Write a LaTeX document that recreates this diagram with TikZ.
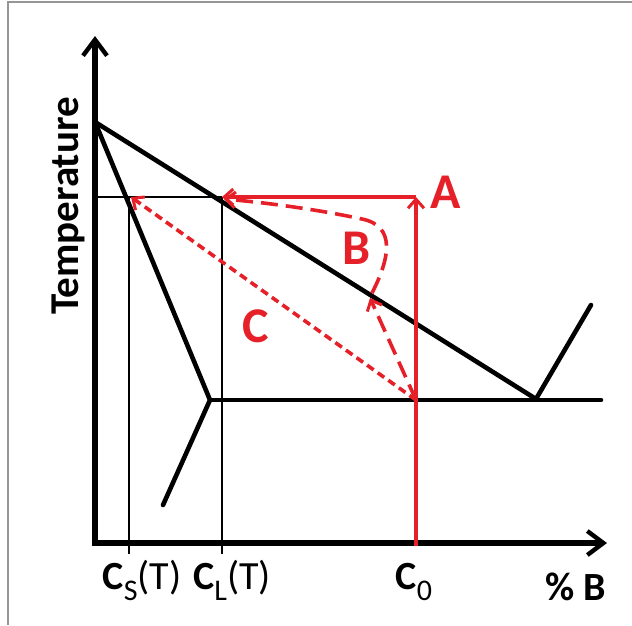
\documentclass[tikz,border=0pt]{standalone}
\usepackage{fontspec}
\setmainfont{Carlito}
\usetikzlibrary{arrows.meta}
\definecolor{myred}{RGB}{230,32,40}
\definecolor{framegray}{RGB}{150,150,150}
\tikzset{
  axisline/.style={line width=5.2pt, -{Straight Barb[length=16pt,width=24pt,line width=4.4pt]}},
  phaseline/.style={line width=4.6pt, line cap=round, line join=round},
  thinline/.style={line width=1.1pt},
  redsolid/.style={draw=myred, line width=3.4pt},
  redtip/.style={-{Straight Barb[length=9pt,width=16pt,line width=3pt]}},
  longdash/.style={draw=myred, line width=3.6pt, dash pattern=on 17pt off 8pt},
  shortdash/.style={draw=myred, line width=3.6pt, dash pattern=on 8pt off 5pt},
  biglabel/.style={text=myred, font=\fontsize{50}{50}\selectfont\bfseries, inner sep=0pt},
  axlabel/.style={font=\fontsize{40}{40}\selectfont, inner sep=0pt, anchor=base},
}
\newcommand{\lsub}[1]{\raisebox{-0.28em}{\fontsize{30}{30}\selectfont #1}}
\begin{document}
\begin{tikzpicture}[x=1pt,y=-1pt]
\useasboundingbox (0,0) rectangle (632,625);
% frame
\draw[framegray, line width=1.4pt] (8,625) -- (8,2) -- (632,2);
% coordinates
\coordinate (O) at (95,543);
\coordinate (Ytop) at (95,36);
\coordinate (Xend) at (607,543);
\coordinate (Tm) at (95,122);
\coordinate (E) at (536,399);
\coordinate (S) at (210,400);
\coordinate (ER) at (601,400);
\coordinate (SL) at (163,505);
\coordinate (RT) at (591,305);
\coordinate (CS) at (129,197);
\coordinate (CL) at (222,197);
\coordinate (CSb) at (129,554);
\coordinate (CLb) at (222,554);
\coordinate (Yt) at (95,197);
\coordinate (A0) at (416,197);
\coordinate (C0) at (416,400);
\coordinate (C0b) at (416,546);
\coordinate (Bm) at (370,298);
\coordinate (Cl) at (131,197);
% thin lines
\draw[thinline] (Yt) -- (CL);
\draw[thinline] (CS) -- (CSb);
\draw[thinline] (CL) -- (CLb);
% phase diagram
\draw[phaseline] (Tm) -- (E) -- (RT);
\draw[phaseline] (Tm) -- (S) -- (SL);
\draw[phaseline] (S) -- (ER);
% axes
\draw[axisline] (95,545.6) -- (Ytop);
\draw[axisline] (92.4,543) -- (Xend);
% path A
\draw[redsolid, redtip] (C0b) -- (A0);
\draw[redsolid, redtip] (A0) -- (CL);
% path B
\draw[longdash, redtip] (C0) -- (Bm);
\draw[longdash, redtip] (372,293) .. controls (390,258) and (396,226) .. (362,219)
   .. controls (320,210) and (270,203) .. (224,199);
% path C
\draw[shortdash, redtip] (C0) -- (Cl);
% labels
\node[biglabel] (LA) at (446,192) {A};
\node[biglabel] (LB) at (357,248) {B};
\node[biglabel] (LC) at (256,326) {C};
\node[font=\fontsize{41}{41}\selectfont\bfseries, rotate=90, anchor=base, inner sep=0pt] (LT) at (78,206) {Temperature};
\node[axlabel] (LCS) at (142,589) {\textbf{C}\lsub{S}(T)};
\node[axlabel] (LCL) at (232,589) {\textbf{C}\lsub{L}(T)};
\node[axlabel] (LC0) at (414,589) {\textbf{C}\lsub{0}};
\node[axlabel] (LPB) at (576,600) {\textbf{\% B}};
\end{tikzpicture}
\end{document}
